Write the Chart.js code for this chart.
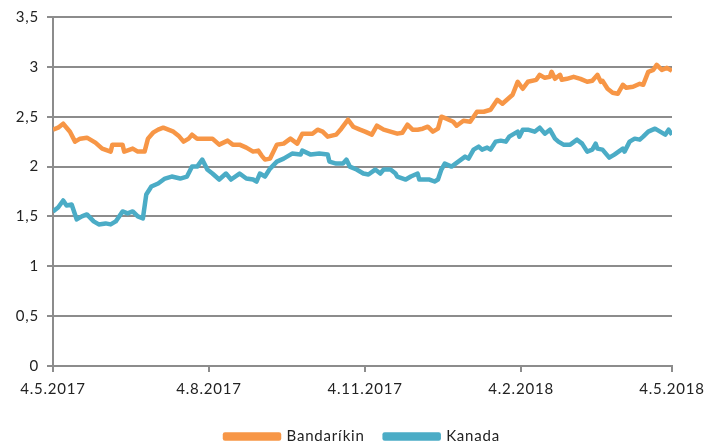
<!DOCTYPE html>
<html lang="is">
<head>
  <meta charset="UTF-8" />
  <title>Bandaríkin og Kanada</title>
  <script src="https://cdn.jsdelivr.net/npm/chart.js"></script>
  <style>
    body { margin: 0; background: #fff; overflow: hidden; }
    #wrap { width: 710px; height: 454px; }
  </style>
</head>
<body>
  <div id="wrap"><canvas id="chart" width="710" height="454"></canvas></div>

  <script>
    // x = days since 4.5.2017
    const xTickDays = [0, 92, 184, 276, 365];
    const xTickLabels = ["4.5.2017", "4.8.2017", "4.11.2017", "4.2.2018", "4.5.2018"];
    const yTickLabels = ["0", "0,5", "1", "1,5", "2", "2,5", "3", "3,5"];

    const bandDays = [0,3,6,10,13,16,20,25,29,34,35,41,42,47,50,54,56,59,62,65,
      68,71,74,77,80,82,85,90,94,98,103,106,110,114,118,121,123,125,128,132,
      136,140,144,147,153,156,159,162,167,170,174,177,181,184,188,191,195,199,203,206,
      209,212,215,218,221,224,227,229,232,236,238,242,246,250,254,258,262,265,271,274,
      277,280,285,287,290,293,294,296,299,300,303,307,311,315,318,321,323,324,327,330,
      333,336,338,342,346,348,351,354,356,359,362,365];
    const bandValues = [2.37,2.39,2.43,2.35,2.25,2.28,2.29,2.24,2.18,2.15,2.22,2.22,2.15,2.18,2.15,2.15,2.28,2.34,2.37,2.39,
      2.37,2.35,2.31,2.25,2.28,2.32,2.28,2.28,2.28,2.22,2.26,2.22,2.22,2.19,2.15,2.16,2.11,2.07,2.08,2.22,
      2.23,2.28,2.23,2.33,2.33,2.37,2.35,2.30,2.32,2.38,2.47,2.40,2.37,2.35,2.32,2.41,2.37,2.35,2.33,2.34,
      2.42,2.37,2.37,2.38,2.40,2.35,2.38,2.50,2.48,2.45,2.41,2.46,2.45,2.55,2.55,2.57,2.67,2.63,2.72,2.85,
      2.78,2.85,2.87,2.92,2.89,2.90,2.95,2.88,2.92,2.87,2.88,2.90,2.88,2.85,2.86,2.92,2.85,2.86,2.78,2.74,
      2.73,2.82,2.79,2.80,2.83,2.82,2.95,2.97,3.02,2.97,2.99,2.96];

    const kanDays = [0,3,6,8,11,14,17,20,24,27,31,34,37,41,44,47,50,53,55,58,
      62,66,70,75,79,82,85,88,91,94,98,102,105,110,114,118,120,122,125,128,
      132,136,141,146,147,152,157,162,163,167,171,173,175,179,183,186,190,193,195,199,
      202,203,208,211,215,216,222,225,227,229,231,235,239,243,245,248,251,253,256,258,
      261,264,267,269,274,275,277,280,284,287,290,293,296,298,301,305,309,312,315,318,
      320,321,324,328,331,336,337,340,343,346,348,351,355,358,361,363,365];
    const kanValues = [1.55,1.59,1.66,1.61,1.62,1.47,1.50,1.52,1.45,1.42,1.43,1.42,1.45,1.55,1.53,1.55,1.50,1.48,1.72,1.80,
      1.83,1.88,1.90,1.88,1.90,2.00,2.00,2.07,1.97,1.93,1.87,1.93,1.87,1.93,1.88,1.87,1.85,1.93,1.90,1.98,
      2.05,2.08,2.13,2.12,2.16,2.12,2.13,2.12,2.05,2.03,2.03,2.07,2.00,1.97,1.93,1.92,1.97,1.93,1.97,1.97,
      1.93,1.90,1.87,1.90,1.93,1.87,1.87,1.85,1.87,1.97,2.03,2.00,2.05,2.10,2.08,2.17,2.20,2.17,2.19,2.17,
      2.25,2.26,2.25,2.30,2.35,2.30,2.37,2.37,2.35,2.39,2.33,2.37,2.28,2.25,2.22,2.22,2.27,2.23,2.15,2.17,
      2.23,2.18,2.17,2.09,2.12,2.18,2.15,2.25,2.28,2.27,2.30,2.35,2.38,2.35,2.32,2.37,2.32];

    const orange = "#f79646";
    const teal = "#4bacc6";
    const gridGray = "#8c8c8c";

    function points(days, vals) {
      return days.map((d, i) => ({ x: d, y: vals[i] }));
    }

    // wider letter spacing, like the Excel original
    const spacing = {
      id: "spacing",
      beforeUpdate(chart) { chart.ctx.letterSpacing = "0.8px"; },
      beforeDraw(chart) { chart.ctx.letterSpacing = "0.8px"; }
    };

    Chart.defaults.font.family = "Lato, 'Liberation Sans', sans-serif";
    Chart.defaults.font.size = 15;
    Chart.defaults.color = "#222";

    new Chart(document.getElementById("chart"), {
      type: "line",
      data: {
        datasets: [
          {
            label: "Bandaríkin",
            data: points(bandDays, bandValues),
            borderColor: orange,
            backgroundColor: orange,
            borderWidth: 4.5,
            pointRadius: 0,
            tension: 0,
            borderJoinStyle: "round"
          },
          {
            label: "Kanada",
            data: points(kanDays, kanValues),
            borderColor: teal,
            backgroundColor: teal,
            borderWidth: 4.5,
            pointRadius: 0,
            tension: 0,
            borderJoinStyle: "round"
          }
        ]
      },
      plugins: [spacing],
      options: {
        responsive: false,
        animation: false,
        layout: { padding: { top: 12, right: 38, left: 0, bottom: 0 } },
        plugins: {
          tooltip: { enabled: false },
          legend: {
            position: "bottom",
            fullSize: false,
            labels: { boxWidth: 54, boxHeight: 4, padding: 20, color: "#222" }
          }
        },
        scales: {
          x: {
            type: "linear",
            min: 0,
            max: 365,
            afterBuildTicks: axis => { axis.ticks = xTickDays.map(v => ({ value: v })); },
            afterFit: axis => {
              axis.height = 43;
              axis.paddingLeft = 0;
              axis.paddingRight = 0;
            },
            grid: { drawOnChartArea: false, drawTicks: true, tickLength: 6, color: gridGray, lineWidth: 2 },
            border: { color: gridGray, width: 2 },
            ticks: {
              autoSkip: false,
              maxRotation: 0,
              padding: 8,
              callback: (v, i) => xTickLabels[i]
            }
          },
          y: {
            min: 0,
            max: 3.5,
            afterFit: axis => { axis.width = 53; },
            grid: { color: gridGray, lineWidth: 2, tickLength: 6 },
            border: { color: gridGray, width: 2 },
            ticks: {
              stepSize: 0.5,
              padding: 8,
              callback: (v, i) => yTickLabels[i]
            }
          }
        }
      }
    });
  </script>
</body>
</html>
